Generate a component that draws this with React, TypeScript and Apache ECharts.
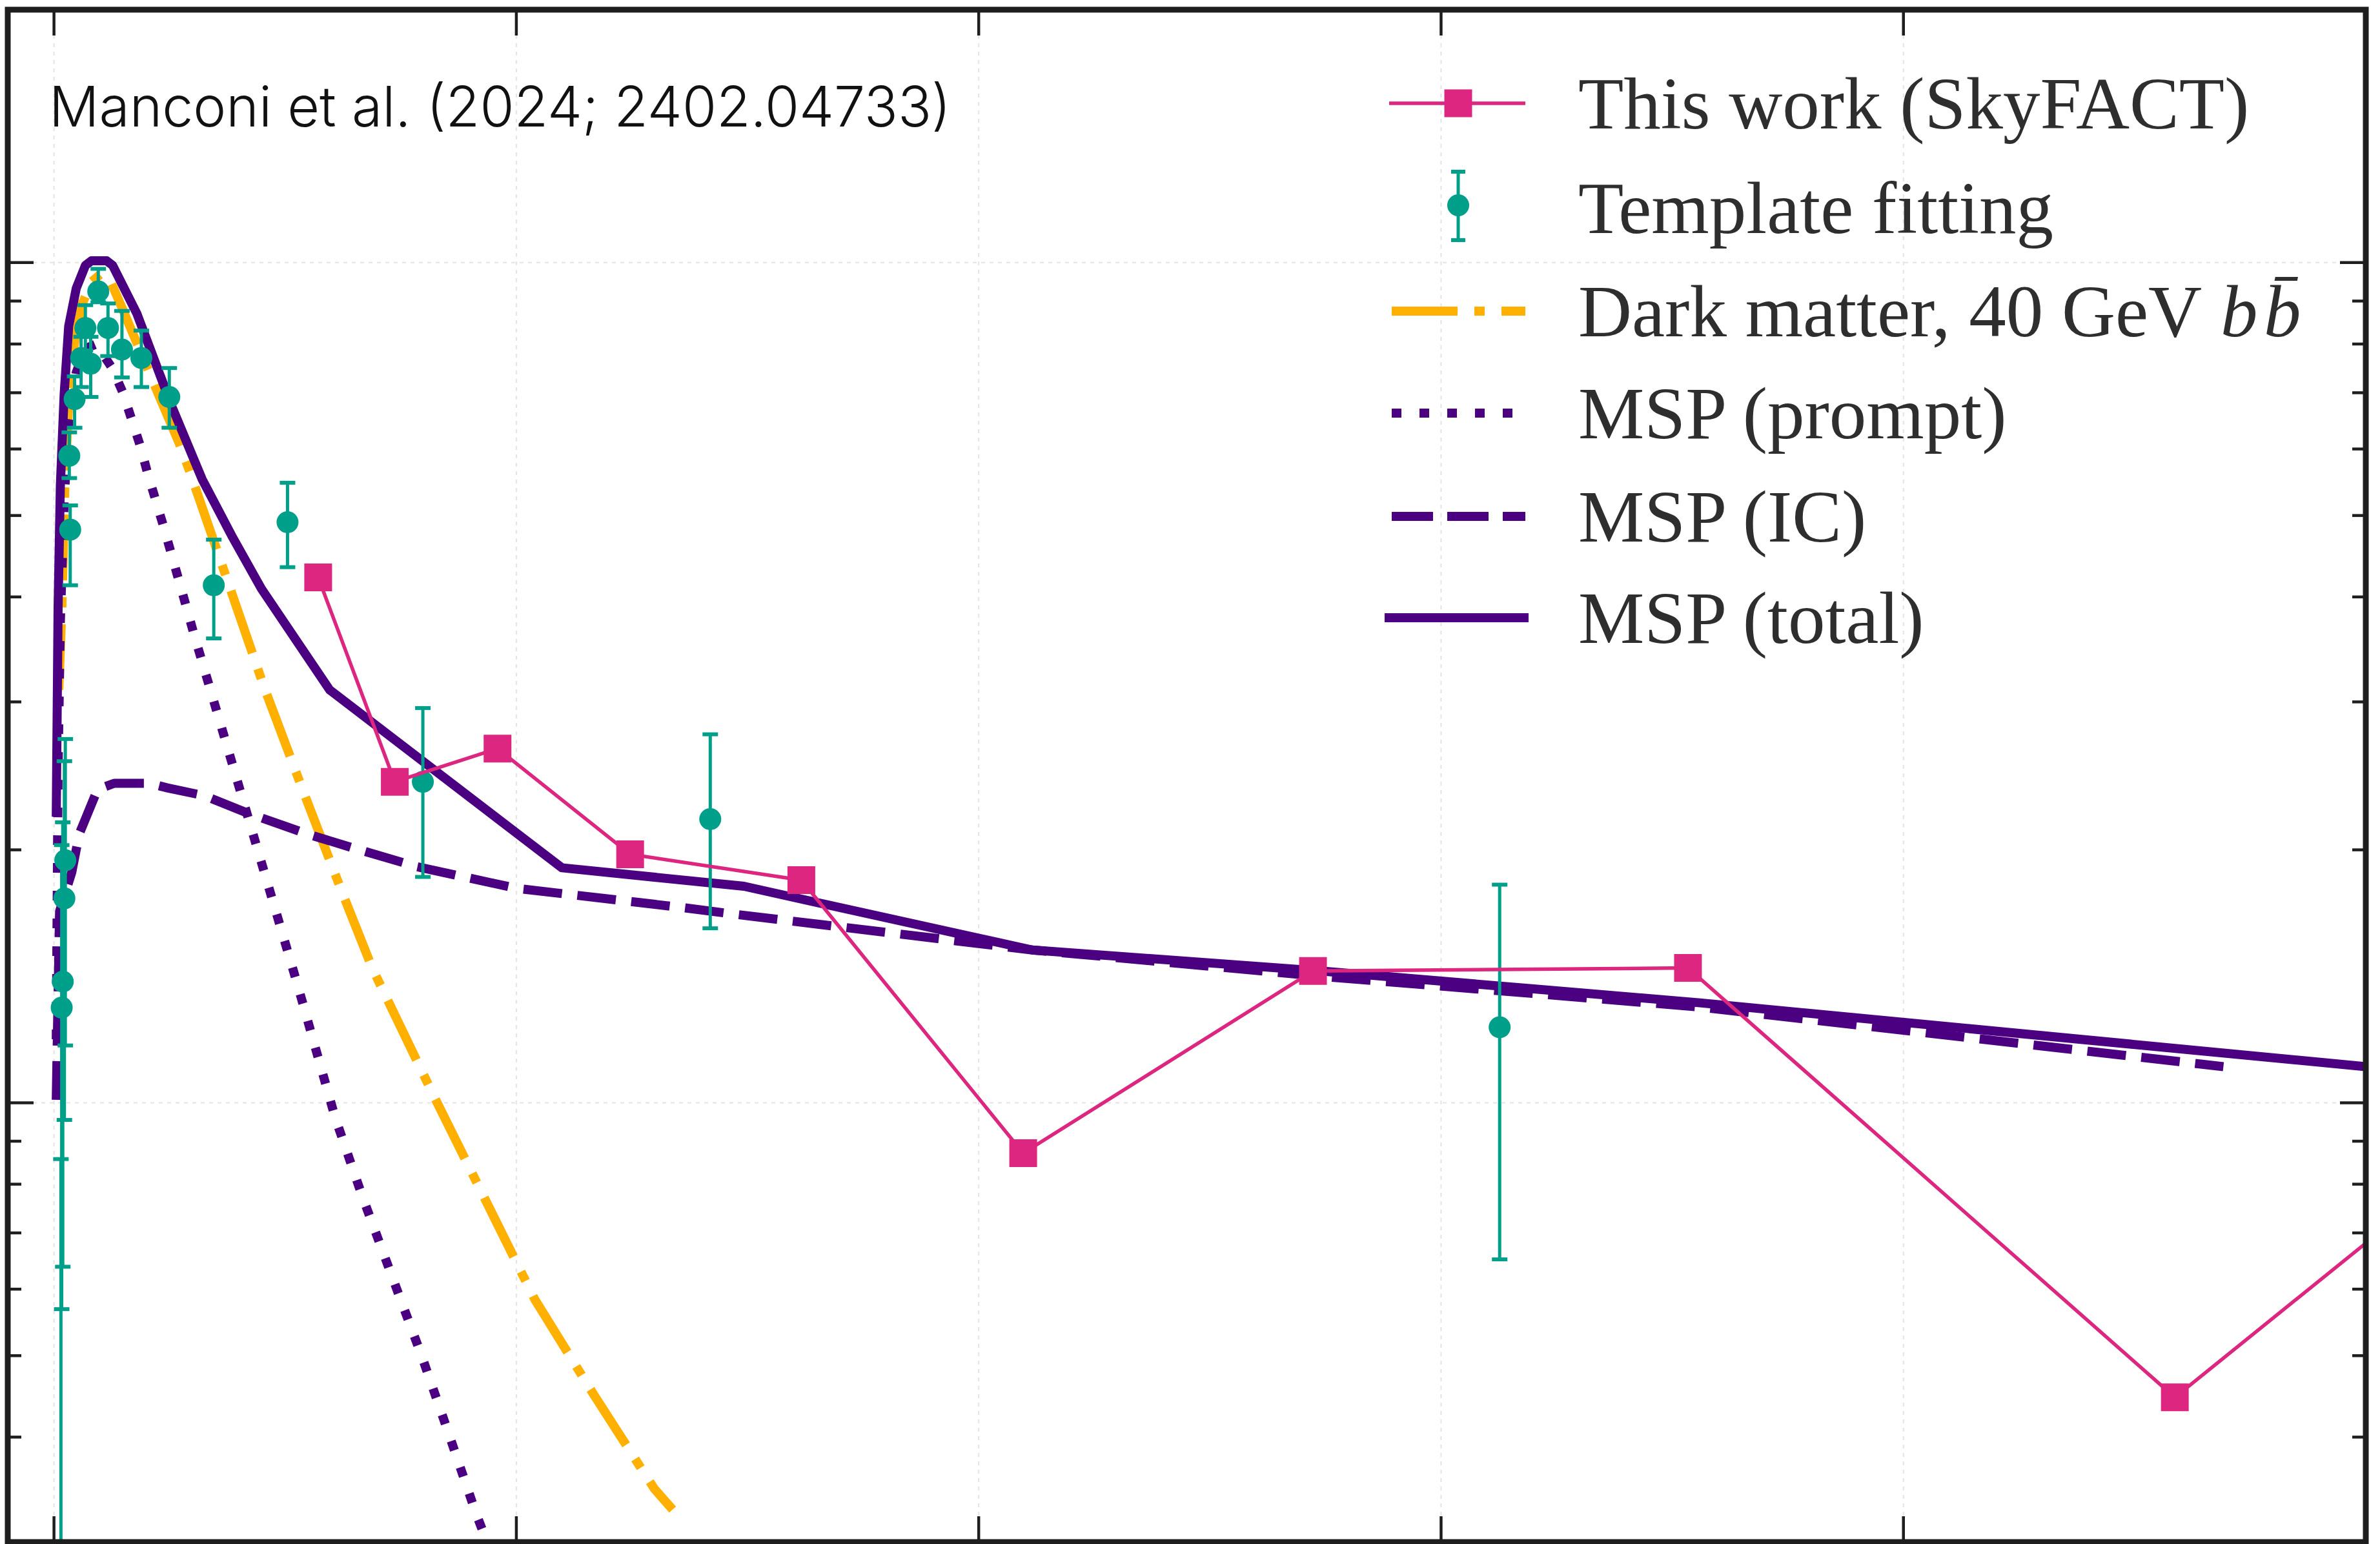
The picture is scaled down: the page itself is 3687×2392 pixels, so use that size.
import React, { useEffect, useRef } from "react";
import * as echarts from "echarts";

// ---------- axis ranges & ticks ----------
const X_MIN = -1;
const X_MAX = 50;
const Y_MIN = 3e-8;
const Y_MAX = 2e-6;

const xTickValues = [0, 10, 20, 30, 40, 50];
const xGridValues = [0, 10, 20, 30, 40];
const yMajorTickValues = [1e-7, 1e-6];
const yMinorTickValues = [4e-8, 5e-8, 6e-8, 7e-8, 8e-8, 9e-8, 2e-7, 3e-7, 4e-7, 5e-7, 6e-7, 7e-7, 8e-7, 9e-7];
const yGridValues = [1e-7, 1e-6];

// ---------- This work (SkyFACT) ----------
const skyfactX = [5.714, 7.371, 9.593, 12.461, 16.164, 20.962, 27.23, 35.34, 45.87, 59.54];
const skyfactY = [4.22e-7, 2.41e-7, 2.64e-7, 1.976e-7, 1.841e-7, 8.71e-8, 1.435e-7, 1.447e-7, 4.46e-8, 1.807e-7];

// ---------- Template fitting (value, lower, upper) ----------
const templateX = [0.15, 0.167, 0.19, 0.225, 0.245, 0.331, 0.351, 0.446, 0.587, 0.679, 0.794, 0.958, 1.168, 1.47, 1.89, 2.494, 3.456, 5.051, 7.978, 14.194, 31.267];
const templateY = [2e-8, 1.298e-7, 1.394e-7, 1.751e-7, 1.944e-7, 5.89e-7, 4.81e-7, 6.88e-7, 7.7e-7, 8.36e-7, 7.58e-7, 9.24e-7, 8.36e-7, 7.88e-7, 7.7e-7, 6.92e-7, 4.13e-7, 4.91e-7, 2.41e-7, 2.176e-7, 1.23e-7];
const templateLo = [1e-9, 5.68e-8, 6.38e-8, 9.54e-8, 1.17e-7, 5.54e-7, 4.13e-7, 6.36e-7, 7.11e-7, 7.86e-7, 6.92e-7, 8.97e-7, 7.74e-7, 7.3e-7, 7.11e-7, 6.36e-7, 3.57e-7, 4.34e-7, 1.857e-7, 1.613e-7, 6.51e-8];
const templateHi = [8.57e-8, 2.026e-7, 2.157e-7, 2.55e-7, 2.71e-7, 6.28e-7, 5.14e-7, 7.32e-7, 8.16e-7, 8.9e-7, 8.16e-7, 9.83e-7, 8.94e-7, 8.76e-7, 8.3e-7, 7.49e-7, 4.68e-7, 5.47e-7, 2.95e-7, 2.745e-7, 1.818e-7];

// ---------- Dark matter, 40 GeV bb ----------
const dmX = [0.105, 0.171, 0.236, 0.318, 0.45, 0.614, 0.81, 1.008, 1.204, 1.5, 2.123, 2.7, 2.937, 3.754, 4.539, 5.389, 6.245, 6.882, 8.241, 9.317, 10.394, 11.667, 12.987, 13.38];
const dmY = [3.1e-7, 3.89e-7, 5.43e-7, 6.82e-7, 8.06e-7, 8.94e-7, 9.48e-7, 9.69e-7, 9.56e-7, 8.76e-7, 7.26e-7, 6.11e-7, 5.64e-7, 4.18e-7, 3.13e-7, 2.35e-7, 1.773e-7, 1.447e-7, 1.012e-7, 7.69e-8, 5.84e-8, 4.5e-8, 3.47e-8, 3.28e-8];

// ---------- MSP (prompt) ----------
const promptX = [0.049, 0.089, 0.138, 0.22, 0.318, 0.482, 0.679, 0.91, 1.258, 1.492, 1.867, 2.026, 2.376, 2.704, 3.029, 5.254, 6.087, 6.675, 7.308, 7.945, 8.536, 9.123, 9.8];
const promptY = [1.19e-7, 2.5e-7, 3.74e-7, 5.2e-7, 6.5e-7, 7.4e-7, 7.9e-7, 8.0e-7, 7.49e-7, 7.0e-7, 6.05e-7, 5.61e-7, 4.84e-7, 4.18e-7, 3.61e-7, 1.39e-7, 9.58e-8, 7.72e-8, 6.22e-8, 5.01e-8, 4.04e-8, 3.25e-8, 2.6e-8];

// ---------- MSP (IC) ----------
const icX = [0.049, 0.121, 0.384, 0.548, 0.942, 1.303, 2.058, 2.452, 3.252, 4.112, 5.464, 6.603, 7.85, 10.0, 13.495, 14.59, 21.16, 27.4, 35.6, 46.92];
const icY = [1.008e-7, 1.69e-7, 1.88e-7, 2.09e-7, 2.36e-7, 2.4e-7, 2.4e-7, 2.37e-7, 2.32e-7, 2.22e-7, 2.09e-7, 2.0e-7, 1.91e-7, 1.8e-7, 1.71e-7, 1.68e-7, 1.52e-7, 1.414e-7, 1.3e-7, 1.104e-7];

// ---------- MSP (total) ----------
const totalX = [0.049, 0.089, 0.138, 0.22, 0.318, 0.482, 0.679, 0.81, 1.139, 1.27, 1.795, 2.55, 3.206, 3.863, 4.487, 5.963, 10.985, 14.923, 16.236, 21.159, 27.395, 35.6, 50];
const totalY = [2.19e-7, 3.89e-7, 5.43e-7, 6.97e-7, 8.4e-7, 9.32e-7, 9.92e-7, 1.005e-6, 1.005e-6, 9.92e-7, 8.69e-7, 6.74e-7, 5.52e-7, 4.71e-7, 4.09e-7, 3.1e-7, 1.904e-7, 1.81e-7, 1.744e-7, 1.52e-7, 1.435e-7, 1.315e-7, 1.104e-7];

const legendLabels = [
  "This work (SkyFACT)",
  "Template fitting",
  "Dark matter, 40 GeV ",
  "MSP (prompt)",
  "MSP (IC)",
  "MSP (total)",
];
const annotation = "Manconi et al. (2024; 2402.04733)";

// ---------- styles ----------
const PINK = "#DC267F";
const TEAL = "#009F8A";
const ORANGE = "#FFB000";
const PURPLE = "#4B0082";
const FRAME = "#1e1e1e";
const GRIDC = "#e4e4e4";
const MODEL_W = 14;
const DASH_IC = [60, 24];
const DASH_PROMPT = [15, 28];
const DASH_DM = [102, 26, 16, 26];

const zip = (xs: number[], ys: number[]) => xs.map((x, i) => [x, ys[i]]);

export default function App() {
  const ref = useRef<HTMLDivElement>(null);

  useEffect(() => {
    if (!ref.current) return;
    const chart = echarts.init(ref.current, null, { renderer: "svg" });

    const legX1 = 2156;
    const legX2 = 2363;
    const legXC = 2259;
    const legTX = 2445;
    const rowY = [160, 322, 482, 640, 800, 957];
    const legFont = {
      fontFamily: "'Liberation Serif', 'Times New Roman', serif",
      fontSize: 115,
      fill: "#2e2e2e",
      verticalAlign: "middle" as const,
      align: "left" as const,
    };

    const graphic: any[] = [
      {
        type: "text",
        x: 76,
        y: 165,
        z: 100,
        style: {
          text: annotation,
          fontFamily: "Inter, 'Noto Sans', sans-serif",
          fontWeight: 300,
          fontSize: 86,
          fill: "#111111",
          verticalAlign: "middle",
          align: "left",
        },
      },
      // legend row 1: SkyFACT
      { type: "line", z: 100, shape: { x1: 2152, y1: rowY[0], x2: 2363, y2: rowY[0] }, style: { stroke: PINK, lineWidth: 5.5 } },
      { type: "rect", z: 101, shape: { x: legXC - 21.5, y: rowY[0] - 21.5, width: 43, height: 43 }, style: { fill: PINK } },
      // legend row 2: template fitting
      { type: "line", z: 100, shape: { x1: legXC, y1: rowY[1] - 56, x2: legXC, y2: rowY[1] + 50 }, style: { stroke: TEAL, lineWidth: 5 } },
      { type: "line", z: 100, shape: { x1: legXC - 11, y1: rowY[1] - 56, x2: legXC + 11, y2: rowY[1] - 56 }, style: { stroke: TEAL, lineWidth: 6 } },
      { type: "line", z: 100, shape: { x1: legXC - 11, y1: rowY[1] + 50, x2: legXC + 11, y2: rowY[1] + 50 }, style: { stroke: TEAL, lineWidth: 6 } },
      { type: "circle", z: 101, shape: { cx: legXC, cy: rowY[1] - 4, r: 17 }, style: { fill: TEAL } },
      // row 3: DM
      { type: "line", z: 100, shape: { x1: legX1, y1: rowY[2], x2: legX2, y2: rowY[2] }, style: { stroke: ORANGE, lineWidth: MODEL_W, lineDash: DASH_DM, lineCap: "butt" } },
      // row 4: prompt
      { type: "line", z: 100, shape: { x1: legX1, y1: rowY[3], x2: 2343, y2: rowY[3] }, style: { stroke: PURPLE, lineWidth: MODEL_W, lineDash: DASH_PROMPT, lineCap: "butt" } },
      // row 5: IC
      { type: "line", z: 100, shape: { x1: legX1, y1: rowY[4], x2: legX2, y2: rowY[4] }, style: { stroke: PURPLE, lineWidth: MODEL_W, lineDash: [64, 22], lineCap: "butt" } },
      // row 6: total
      { type: "line", z: 100, shape: { x1: 2145, y1: rowY[5], x2: 2368, y2: rowY[5] }, style: { stroke: PURPLE, lineWidth: MODEL_W } },
      // legend texts
      { type: "text", z: 100, x: legTX, y: rowY[0], style: { ...legFont, text: legendLabels[0] } },
      { type: "text", z: 100, x: legTX, y: rowY[1], style: { ...legFont, text: legendLabels[1] } },
      {
        type: "text",
        z: 100,
        x: legTX,
        y: rowY[2],
        style: {
          ...legFont,
          text: "{n|" + legendLabels[2] + "}{i|b\u200Ab\u0304}",
          rich: {
            n: { fontFamily: legFont.fontFamily, fontSize: 115, fill: "#2e2e2e" },
            i: { fontFamily: legFont.fontFamily, fontSize: 115, fontStyle: "italic", fill: "#2e2e2e" },
          },
        },
      },
      { type: "text", z: 100, x: legTX, y: rowY[3], style: { ...legFont, text: legendLabels[3] } },
      { type: "text", z: 100, x: legTX, y: rowY[4], style: { ...legFont, text: legendLabels[4] } },
      { type: "text", z: 100, x: legTX, y: rowY[5], style: { ...legFont, text: legendLabels[5] } },
    ];

    const option: any = {
      animation: false,
      backgroundColor: "#ffffff",
      grid: { left: 12, top: 15, right: 22, bottom: 3, show: false, containLabel: false },
      xAxis: { type: "value", min: X_MIN, max: X_MAX, show: false },
      yAxis: { type: "log", logBase: 10, min: Y_MIN, max: Y_MAX, show: false },
      graphic,
      series: [
        // grid lines (vertical)
        {
          type: "custom",
          z: 0,
          silent: true,
          data: xGridValues.map((v) => [v, 1e-6]),
          renderItem: (params: any, api: any) => {
            const cs = params.coordSys;
            const px = api.coord([api.value(0), 1e-6])[0];
            return {
              type: "line",
              shape: { x1: px, y1: cs.y, x2: px, y2: cs.y + cs.height },
              style: { stroke: GRIDC, lineWidth: 2, lineDash: [6, 7] },
            };
          },
        },
        // grid lines (horizontal)
        {
          type: "custom",
          z: 0,
          silent: true,
          data: yGridValues.map((v) => [1, v]),
          renderItem: (params: any, api: any) => {
            const cs = params.coordSys;
            const py = api.coord([1, api.value(1)])[1];
            return {
              type: "line",
              shape: { x1: cs.x, y1: py, x2: cs.x + cs.width, y2: py },
              style: { stroke: GRIDC, lineWidth: 2, lineDash: [6, 7] },
            };
          },
        },
        // Dark matter
        {
          type: "line",
          name: "Dark matter",
          z: 2,
          data: zip(dmX, dmY),
          showSymbol: false,
          symbol: "none",
          clip: true,
          lineStyle: { color: ORANGE, width: MODEL_W, type: DASH_DM, cap: "butt" },
        },
        // MSP prompt
        {
          type: "line",
          name: "MSP (prompt)",
          z: 3,
          data: zip(promptX, promptY),
          showSymbol: false,
          symbol: "none",
          clip: true,
          lineStyle: { color: PURPLE, width: MODEL_W, type: DASH_PROMPT, cap: "butt" },
        },
        // MSP IC
        {
          type: "line",
          name: "MSP (IC)",
          z: 4,
          data: zip(icX, icY),
          showSymbol: false,
          symbol: "none",
          clip: true,
          lineStyle: { color: PURPLE, width: MODEL_W, type: DASH_IC, cap: "butt" },
        },
        // MSP total
        {
          type: "line",
          name: "MSP (total)",
          z: 5,
          data: zip(totalX, totalY),
          showSymbol: false,
          symbol: "none",
          clip: true,
          lineStyle: { color: PURPLE, width: MODEL_W, join: "round" },
        },
        // Template fitting with error bars
        {
          type: "custom",
          name: "Template fitting",
          z: 6,
          clip: true,
          data: templateX.map((x, i) => [x, templateY[i], templateLo[i], templateHi[i]]),
          encode: { x: 0, y: 1 },
          renderItem: (params: any, api: any) => {
            const cs = params.coordSys;
            const top = cs.y;
            const bottom = cs.y + cs.height;
            const x = api.value(0);
            const pC = api.coord([x, api.value(1)]);
            const pLo = api.coord([x, api.value(2)]);
            const pHi = api.coord([x, api.value(3)]);
            const cl = (v: number) => Math.max(top, Math.min(bottom, v));
            const children: any[] = [];
            const y1 = cl(pHi[1]);
            const y2 = cl(pLo[1]);
            if (y2 > y1) {
              children.push({ type: "line", shape: { x1: pC[0], y1, x2: pC[0], y2 }, style: { stroke: TEAL, lineWidth: 5 } });
            }
            [pHi[1], pLo[1]].forEach((py) => {
              if (py >= top && py <= bottom) {
                children.push({ type: "line", shape: { x1: pC[0] - 12, y1: py, x2: pC[0] + 12, y2: py }, style: { stroke: TEAL, lineWidth: 6 } });
              }
            });
            if (pC[1] >= top && pC[1] <= bottom) {
              children.push({ type: "circle", shape: { cx: pC[0], cy: pC[1], r: 17 }, style: { fill: TEAL } });
            }
            return { type: "group", children };
          },
        },
        // This work (SkyFACT)
        {
          type: "line",
          name: "This work (SkyFACT)",
          z: 7,
          data: zip(skyfactX, skyfactY),
          clip: true,
          symbol: "rect",
          symbolSize: 43,
          showSymbol: true,
          itemStyle: { color: PINK },
          lineStyle: { color: PINK, width: 5.5 },
        },
        // x ticks (top & bottom)
        {
          type: "custom",
          z: 20,
          silent: true,
          data: xTickValues.map((v) => [v, 1e-6]),
          renderItem: (params: any, api: any) => {
            const cs = params.coordSys;
            const px = api.coord([api.value(0), 1e-6])[0];
            const b = cs.y + cs.height;
            const st = { stroke: FRAME, lineWidth: 4.5 };
            return {
              type: "group",
              children: [
                { type: "line", shape: { x1: px, y1: b, x2: px, y2: b - 40 }, style: st },
                { type: "line", shape: { x1: px, y1: cs.y, x2: px, y2: cs.y + 40 }, style: st },
              ],
            };
          },
        },
        // y ticks (left & right), major & minor
        {
          type: "custom",
          z: 20,
          silent: true,
          data: [
            ...yMajorTickValues.map((v) => [1, v, 40]),
            ...yMinorTickValues.map((v) => [1, v, 21]),
          ],
          renderItem: (params: any, api: any) => {
            const cs = params.coordSys;
            const py = api.coord([1, api.value(1)])[1];
            const len = api.value(2);
            const r = cs.x + cs.width;
            const st = { stroke: FRAME, lineWidth: 4.5 };
            return {
              type: "group",
              children: [
                { type: "line", shape: { x1: cs.x, y1: py, x2: cs.x + len, y2: py }, style: st },
                { type: "line", shape: { x1: r, y1: py, x2: r - len, y2: py }, style: st },
              ],
            };
          },
        },
        // frame
        {
          type: "custom",
          z: 30,
          silent: true,
          data: [[1, 1e-6]],
          renderItem: (params: any) => {
            const cs = params.coordSys;
            return {
              type: "rect",
              shape: { x: cs.x, y: cs.y, width: cs.width, height: cs.height },
              style: { fill: "none", stroke: FRAME, lineWidth: 9 },
            };
          },
        },
      ],
    };

    chart.setOption(option);
    return () => {
      chart.dispose();
    };
  }, []);

  return (
    <div
      ref={ref}
      style={{ position: "fixed", left: 0, top: 0, width: 3687, height: 2392, background: "#fff" }}
    />
  );
}
